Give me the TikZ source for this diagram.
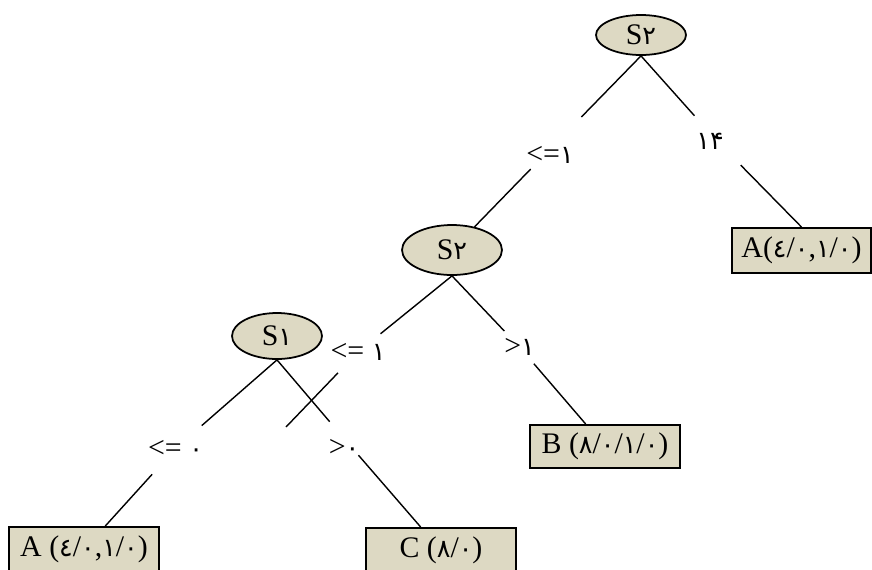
\documentclass[tikz,border=0pt]{standalone}
\usepackage{fontspec}
\setmainfont{Liberation Serif}
\newfontfamily\fanum{DejaVu Sans}[Scale=0.85]
\newcommand{\fa}[1]{{\fanum #1}}
\usetikzlibrary{shapes.geometric}
\definecolor{nodetan}{HTML}{DDD9C3}
\tikzset{
    split/.style={ellipse, draw, fill=nodetan, line width=1pt, inner sep=0pt},
    leaf/.style={rectangle, draw, fill=nodetan, line width=1.1pt, inner sep=0pt,
        minimum width=3cm, minimum height=0.9cm},
    cond/.style={circle, inner sep=0pt, minimum size=#1},
    branch/.style={line width=0.8pt}
}
\begin{document}
\begin{tikzpicture}[x=0.02cm, y=-0.02cm, font=\fontsize{17}{20}\selectfont]
            \clip (0,0) rectangle (872,569);

            \node[split, minimum width=1.8cm, minimum height=0.8cm] (root) at (641,35) {S\fa{۲}};
            \node[split, minimum width=2cm, minimum height=1cm] (s2b) at (452,250) {S\fa{۲}};
            \node[split, minimum width=1.8cm, minimum height=0.92cm] (s1) at (277,336) {S\fa{۱}};

            \node[leaf, minimum width=2.78cm] (leafAtop) at (801.5,250.5) {A(\fa{٤}/\fa{۰},\fa{۱}/\fa{۰})};
            \node[leaf, minimum height=0.86cm] (leafB) at (605,446.5) {B (\fa{۸}/\fa{۰}/\fa{۱}/\fa{۰})};
            \node[leaf] (leafAbot) at (84,549.5) {A (\fa{٤}/\fa{۰},\fa{۱}/\fa{۰})};
            \node[leaf] (leafC) at (441,550.5) {C (\fa{۸}/\fa{۰})};

            \node[cond=1.44cm, label={[xshift=-0.12cm, yshift=-0.24cm]center:{<=\fa{۱}}}] (c1) at (556,143) {};
            \node[cond=1.34cm, label={[xshift=-0.14cm]center:{\fa{۱۴}}}] (c2) at (717,141) {};
            \node[cond=1.12cm] (c3) at (358,352) {<= \fa{۱}};
            \node[cond=0.87cm] (c4) at (519.5,347) {>\fa{۱}};
            \node[cond=1.38cm] (c5) at (175.5,448.5) {<= \fa{۰}};
            \node[cond=0.87cm, label={[yshift=-0.18cm]center:{>\fa{۰}}}] (c6) at (344,438.5) {};
            \coordinate (s2bend) at (286,427);

            \draw[branch] (root.south) -- (c1) -- (s2b);
            \draw[branch] (root.south) -- (c2) -- (leafAtop.north);
            \draw[branch] (s2b.south) -- (c3) -- (s2bend);
            \draw[branch] (s2b.south) -- (c4) -- (leafB);
            \draw[branch] (s1.south) -- (c5) -- (leafAbot);
            \draw[branch] (s1.south) -- (c6) -- (leafC);
        \end{tikzpicture}
\end{document}
